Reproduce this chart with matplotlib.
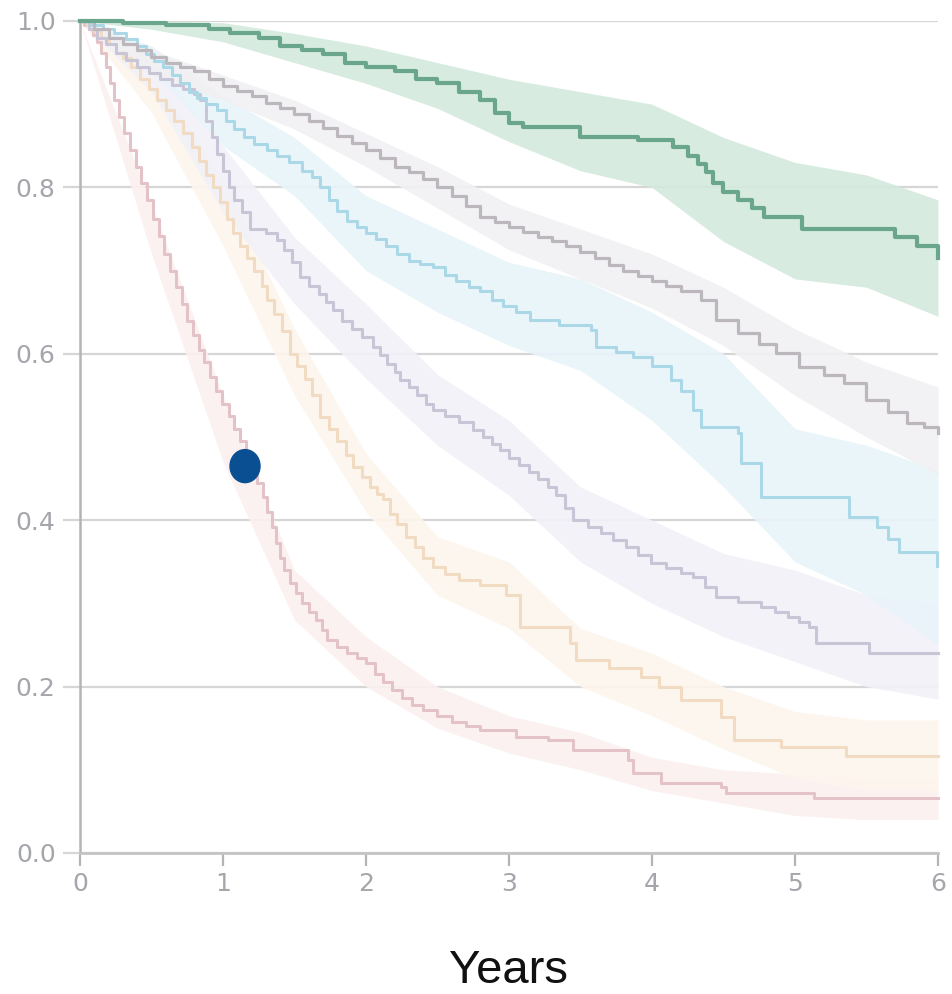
import matplotlib
matplotlib.use("Agg")
import matplotlib.pyplot as plt
from matplotlib.patches import Ellipse

plt.rcParams['font.family'] = ['Liberation Sans', 'DejaVu Sans']

# ---------------- data ----------------
# step-curve points (time in years, survival probability)
green_pts = [(0, 1.0), (0.3, 0.998), (0.6, 0.995), (0.9, 0.99), (1.05, 0.985), (1.25, 0.98), (1.4, 0.97),
             (1.55, 0.965), (1.7, 0.96), (1.85, 0.95), (2.0, 0.945), (2.2, 0.94), (2.35, 0.93), (2.5, 0.925),
             (2.65, 0.915), (2.8, 0.905), (2.9, 0.89), (3.0, 0.878), (3.1, 0.873), (3.5, 0.86), (3.9, 0.857),
             (4.15, 0.848), (4.25, 0.838), (4.32, 0.828), (4.38, 0.818), (4.43, 0.805), (4.5, 0.795),
             (4.6, 0.785), (4.7, 0.775), (4.78, 0.765), (5.05, 0.75), (5.7, 0.74), (5.85, 0.73), (6.0, 0.715)]

gray_pts = [(0, 1.0), (0.1, 0.99), (0.2, 0.98), (0.3, 0.972), (0.4, 0.965), (0.5, 0.957), (0.6, 0.95),
            (0.7, 0.945), (0.8, 0.94), (0.9, 0.93), (1.0, 0.922), (1.1, 0.916), (1.2, 0.91), (1.3, 0.902),
            (1.4, 0.895), (1.5, 0.888), (1.6, 0.88), (1.7, 0.871), (1.8, 0.862), (1.9, 0.853), (2.0, 0.845),
            (2.1, 0.835), (2.2, 0.825), (2.3, 0.818), (2.4, 0.81), (2.5, 0.8), (2.6, 0.79), (2.7, 0.778),
            (2.8, 0.765), (2.9, 0.758), (3.0, 0.752), (3.1, 0.746), (3.2, 0.74), (3.3, 0.735), (3.4, 0.73),
            (3.5, 0.722), (3.6, 0.715), (3.7, 0.707), (3.8, 0.70), (3.9, 0.694), (4.0, 0.688), (4.1, 0.681),
            (4.2, 0.675), (4.34, 0.665), (4.45, 0.641), (4.6, 0.625), (4.75, 0.612), (4.87, 0.601),
            (5.03, 0.584), (5.2, 0.575), (5.34, 0.565), (5.5, 0.544), (5.65, 0.53), (5.78, 0.517),
            (5.9, 0.512), (6.0, 0.505)]

blue_pts = [(0, 1.0), (0.08, 0.995), (0.16, 0.99), (0.24, 0.985), (0.32, 0.978), (0.4, 0.97), (0.46, 0.96),
            (0.52, 0.952), (0.58, 0.945), (0.64, 0.935), (0.7, 0.925), (0.76, 0.915), (0.82, 0.908),
            (0.88, 0.9), (0.96, 0.893), (1.02, 0.88), (1.08, 0.87), (1.15, 0.86), (1.22, 0.852), (1.31, 0.845),
            (1.38, 0.838), (1.46, 0.83), (1.55, 0.82), (1.62, 0.813), (1.68, 0.8), (1.74, 0.785), (1.8, 0.772),
            (1.87, 0.76), (1.94, 0.752), (2.0, 0.745), (2.07, 0.738), (2.14, 0.73), (2.22, 0.72), (2.3, 0.712),
            (2.38, 0.708), (2.47, 0.704), (2.55, 0.695), (2.63, 0.688), (2.72, 0.68), (2.8, 0.675),
            (2.88, 0.665), (2.96, 0.658), (3.05, 0.65), (3.15, 0.641), (3.35, 0.635), (3.57, 0.629),
            (3.61, 0.608), (3.75, 0.602), (3.87, 0.596), (4.0, 0.585), (4.13, 0.569), (4.2, 0.555),
            (4.29, 0.532), (4.34, 0.512), (4.6, 0.505), (4.62, 0.469), (4.76, 0.428), (5.38, 0.404),
            (5.57, 0.392), (5.65, 0.378), (5.73, 0.362), (5.99, 0.345)]

purple_pts = [(0, 1.0), (0.06, 0.99), (0.12, 0.98), (0.18, 0.972), (0.25, 0.962), (0.32, 0.953), (0.4, 0.945),
              (0.48, 0.937), (0.56, 0.93), (0.64, 0.923), (0.72, 0.918), (0.8, 0.912), (0.84, 0.905),
              (0.88, 0.88), (0.92, 0.86), (0.96, 0.84), (1.0, 0.82), (1.04, 0.8), (1.08, 0.785), (1.13, 0.77),
              (1.19, 0.75), (1.3, 0.745), (1.38, 0.737), (1.43, 0.725), (1.48, 0.71), (1.54, 0.692),
              (1.6, 0.682), (1.67, 0.672), (1.72, 0.662), (1.77, 0.653), (1.83, 0.64), (1.9, 0.63),
              (1.97, 0.62), (2.05, 0.608), (2.1, 0.598), (2.15, 0.588), (2.2, 0.578), (2.24, 0.569),
              (2.3, 0.56), (2.36, 0.55), (2.42, 0.54), (2.47, 0.532), (2.55, 0.525), (2.65, 0.518),
              (2.75, 0.508), (2.82, 0.5), (2.88, 0.492), (2.94, 0.484), (3.0, 0.475), (3.07, 0.466),
              (3.14, 0.458), (3.2, 0.45), (3.27, 0.44), (3.33, 0.43), (3.39, 0.415), (3.45, 0.4),
              (3.55, 0.392), (3.64, 0.385), (3.73, 0.376), (3.82, 0.368), (3.9, 0.358), (3.99, 0.349),
              (4.1, 0.342), (4.2, 0.337), (4.29, 0.332), (4.37, 0.32), (4.45, 0.308), (4.6, 0.302),
              (4.76, 0.296), (4.86, 0.29), (4.95, 0.284), (5.03, 0.278), (5.1, 0.272), (5.15, 0.252),
              (5.52, 0.24), (6.0, 0.24)]

orange_pts = [(0, 1.0), (0.05, 0.995), (0.1, 0.988), (0.15, 0.98), (0.2, 0.972), (0.25, 0.962), (0.3, 0.955),
              (0.36, 0.945), (0.42, 0.93), (0.48, 0.918), (0.54, 0.905), (0.6, 0.893), (0.66, 0.88),
              (0.72, 0.865), (0.78, 0.848), (0.83, 0.832), (0.88, 0.815), (0.93, 0.8), (0.98, 0.782),
              (1.03, 0.762), (1.07, 0.745), (1.12, 0.73), (1.17, 0.715), (1.22, 0.70), (1.27, 0.682),
              (1.31, 0.665), (1.36, 0.648), (1.41, 0.628), (1.47, 0.60), (1.52, 0.585), (1.57, 0.57),
              (1.62, 0.55), (1.68, 0.524), (1.74, 0.51), (1.8, 0.495), (1.86, 0.478), (1.91, 0.464),
              (1.97, 0.452), (2.03, 0.44), (2.08, 0.432), (2.12, 0.425), (2.17, 0.408), (2.22, 0.395),
              (2.28, 0.38), (2.34, 0.368), (2.4, 0.355), (2.47, 0.344), (2.55, 0.335), (2.65, 0.328),
              (2.8, 0.322), (2.98, 0.31), (3.08, 0.272), (3.43, 0.252), (3.47, 0.232), (3.7, 0.222),
              (3.92, 0.212), (4.05, 0.2), (4.2, 0.184), (4.48, 0.164), (4.57, 0.136), (4.9, 0.128),
              (5.36, 0.116), (6.0, 0.116)]

pink_pts = [(0, 1.0), (0.03, 0.995), (0.06, 0.99), (0.09, 0.983), (0.12, 0.975), (0.15, 0.962), (0.18, 0.945),
            (0.21, 0.925), (0.24, 0.905), (0.27, 0.885), (0.31, 0.865), (0.35, 0.845), (0.39, 0.825),
            (0.43, 0.805), (0.47, 0.785), (0.51, 0.762), (0.55, 0.742), (0.59, 0.72), (0.63, 0.70),
            (0.67, 0.68), (0.71, 0.66), (0.75, 0.64), (0.79, 0.622), (0.83, 0.605), (0.87, 0.59),
            (0.91, 0.572), (0.95, 0.555), (0.99, 0.54), (1.04, 0.525), (1.08, 0.51), (1.12, 0.495),
            (1.16, 0.48), (1.2, 0.462), (1.24, 0.445), (1.28, 0.428), (1.31, 0.41), (1.34, 0.392),
            (1.37, 0.373), (1.4, 0.355), (1.43, 0.34), (1.47, 0.325), (1.51, 0.312), (1.55, 0.3),
            (1.6, 0.29), (1.65, 0.28), (1.69, 0.268), (1.73, 0.256), (1.8, 0.248), (1.87, 0.24),
            (1.94, 0.234), (2.0, 0.228), (2.06, 0.215), (2.12, 0.205), (2.18, 0.196), (2.25, 0.186),
            (2.32, 0.178), (2.4, 0.172), (2.5, 0.165), (2.6, 0.158), (2.7, 0.153), (2.8, 0.148),
            (3.05, 0.14), (3.27, 0.136), (3.45, 0.124), (3.83, 0.112), (3.87, 0.096), (4.06, 0.084),
            (4.48, 0.079), (4.52, 0.072), (5.1, 0.072), (5.13, 0.066), (6.0, 0.066)]

# confidence bands
band_x = [0, 0.5, 1, 1.5, 2, 2.5, 3, 3.5, 4, 4.5, 5, 5.5, 6]
green_lo = [1.0, 0.99, 0.975, 0.95, 0.925, 0.895, 0.855, 0.82, 0.80, 0.735, 0.69, 0.68, 0.645]
green_hi = [1.0, 1.0, 0.998, 0.985, 0.97, 0.95, 0.93, 0.915, 0.90, 0.86, 0.83, 0.815, 0.785]
gray_lo = [1.0, 0.935, 0.905, 0.87, 0.825, 0.775, 0.725, 0.69, 0.655, 0.61, 0.55, 0.50, 0.455]
gray_hi = [1.0, 0.965, 0.935, 0.905, 0.865, 0.825, 0.78, 0.75, 0.72, 0.68, 0.63, 0.59, 0.56]
blue_lo = [1.0, 0.94, 0.85, 0.79, 0.70, 0.65, 0.61, 0.58, 0.52, 0.44, 0.35, 0.31, 0.25]
blue_hi = [1.0, 0.97, 0.91, 0.86, 0.79, 0.75, 0.71, 0.69, 0.65, 0.60, 0.51, 0.49, 0.46]
purple_lo = [1.0, 0.915, 0.77, 0.66, 0.57, 0.49, 0.43, 0.35, 0.30, 0.26, 0.23, 0.20, 0.185]
purple_hi = [1.0, 0.955, 0.85, 0.74, 0.66, 0.575, 0.52, 0.44, 0.40, 0.36, 0.34, 0.31, 0.30]
orange_lo = [1.0, 0.89, 0.73, 0.55, 0.41, 0.31, 0.27, 0.20, 0.165, 0.125, 0.09, 0.075, 0.075]
orange_hi = [1.0, 0.94, 0.81, 0.63, 0.48, 0.38, 0.35, 0.27, 0.24, 0.20, 0.17, 0.16, 0.16]
pink_lo = [1.0, 0.72, 0.47, 0.28, 0.20, 0.15, 0.12, 0.10, 0.075, 0.06, 0.045, 0.04, 0.04]
pink_hi = [1.0, 0.78, 0.55, 0.34, 0.26, 0.20, 0.165, 0.145, 0.115, 0.10, 0.095, 0.09, 0.09]

marker_x = [1.154]
marker_y = [0.465]

x_ticks = [0, 1, 2, 3, 4, 5, 6]
x_tick_labels = ["0", "1", "2", "3", "4", "5", "6"]
y_ticks = [0.0, 0.2, 0.4, 0.6, 0.8, 1.0]
y_tick_labels = ["0.0", "0.2", "0.4", "0.6", "0.8", "1.0"]
x_label = "Years"

# ---------------- styles ----------------
line_colors = {"green": "#6aa68b", "gray": "#bcb7bd", "blue": "#aad8e6",
               "purple": "#c8c5d6", "orange": "#f1dbc3", "pink": "#e3c3c8"}
band_colors = {"green": "#d3e9dd", "gray": "#f1f0f3", "blue": "#e8f4fa",
               "purple": "#f1f1f8", "orange": "#fdf5ed", "pink": "#fcf0f0"}
line_widths = {"green": 3.0, "gray": 2.3, "blue": 2.2, "purple": 2.2, "orange": 2.2, "pink": 2.2}

curves = {
    "green": (green_pts, green_lo, green_hi),
    "gray": (gray_pts, gray_lo, gray_hi),
    "blue": (blue_pts, blue_lo, blue_hi),
    "purple": (purple_pts, purple_lo, purple_hi),
    "orange": (orange_pts, orange_lo, orange_hi),
    "pink": (pink_pts, pink_lo, pink_hi),
}

W, H = 953, 994
fig = plt.figure(figsize=(W / 100, H / 100), dpi=100)
ax = fig.add_axes([80 / W, 141 / H, 858 / W, 832 / H])
ax.set_xlim(0, 6)
ax.set_ylim(0, 1)

grid_c = "#d6d6d6"
for yt in y_ticks:
    ax.axhline(yt, color=grid_c, lw=1.6, zorder=0)

draw_order = ["pink", "orange", "purple", "blue", "gray", "green"]
for name in draw_order:
    pts, lo, hi = curves[name]
    ax.fill_between(band_x, lo, hi, color=band_colors[name], alpha=0.9, lw=0, zorder=1)
for name in draw_order:
    pts, lo, hi = curves[name]
    xs = [p[0] for p in pts]
    ys = [p[1] for p in pts]
    ax.plot(xs, ys, drawstyle="steps-post", color=line_colors[name],
            lw=line_widths[name], zorder=3, clip_on=False)

# marker dot (ellipse sized in pixels -> data units)
px_x = 6 / 858
px_y = 1 / 832
for mx, my in zip(marker_x, marker_y):
    ax.add_patch(Ellipse((mx, my), 30 * px_x, 33 * px_y, color="#0b4f93", zorder=5))

for s in ["top", "right"]:
    ax.spines[s].set_visible(False)
ax.spines["left"].set_color("#b4b4b4")
ax.spines["left"].set_linewidth(1.8)
ax.spines["bottom"].set_color("#c4c4c4")
ax.spines["bottom"].set_linewidth(2.0)

ax.set_xticks(x_ticks)
ax.set_xticklabels(x_tick_labels, family="DejaVu Sans")
ax.set_yticks(y_ticks)
ax.set_yticklabels(y_tick_labels, family="DejaVu Sans")
ax.tick_params(axis="y", length=12.5, width=1.6, color=grid_c, pad=5,
               labelsize=18, labelcolor="#a4a6ac")
ax.tick_params(axis="x", length=9, width=1.6, color="#b4b4b4", pad=5,
               labelsize=18, labelcolor="#a4a6ac")

ax.set_xlabel(x_label, fontsize=34, color="#111111", labelpad=38)

fig.savefig("out.png", dpi=100)
